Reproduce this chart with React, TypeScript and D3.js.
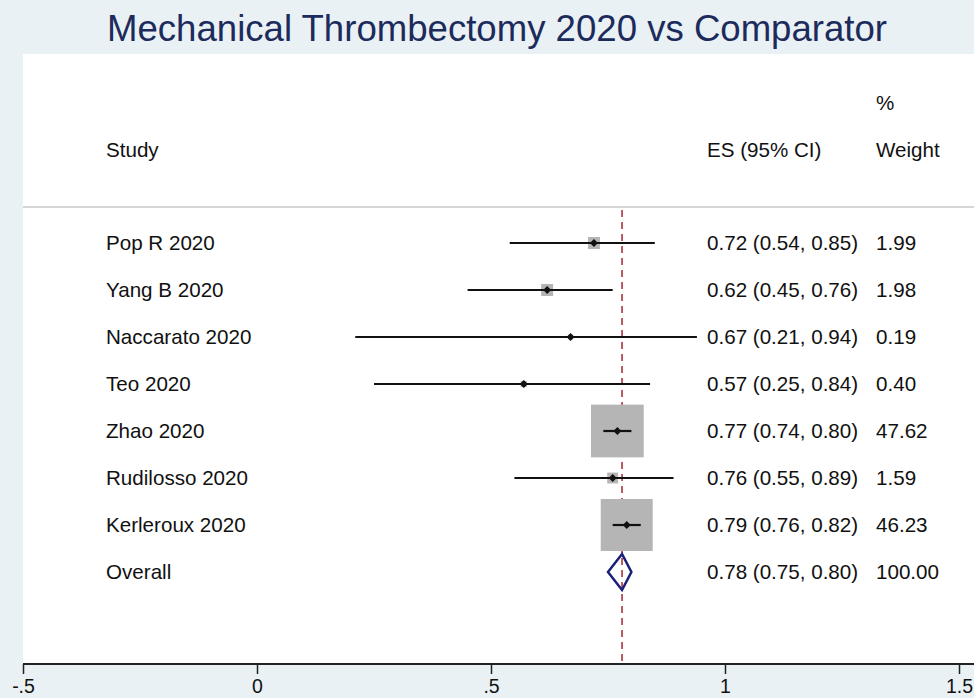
import { useEffect, useRef } from "react";
import * as d3 from "d3";

// forest plot: mechanical thrombectomy 2020 vs comparator

const studies = [
  "Pop R 2020",
  "Yang B 2020",
  "Naccarato 2020",
  "Teo 2020",
  "Zhao 2020",
  "Rudilosso 2020",
  "Kerleroux 2020",
];
const es = [0.72, 0.62, 0.67, 0.57, 0.77, 0.76, 0.79];
const lower = [0.54, 0.45, 0.21, 0.25, 0.74, 0.55, 0.76];
const upper = [0.85, 0.76, 0.94, 0.84, 0.8, 0.89, 0.82];
const weights = [1.99, 1.98, 0.19, 0.4, 47.62, 1.59, 46.23];

const overallLabel = "Overall";
const overallEs = 0.78;
const overallLower = 0.75;
const overallUpper = 0.8;
const overallWeight = 100.0;

const xTicks = [-0.5, 0, 0.5, 1, 1.5];

const W = 974;
const H = 698;
const plotLeft = 23;
const plotTop = 54;
const axisY = 664;
const font = "'Liberation Sans', Arial, Helvetica, sans-serif";
const fs = 20.6;

// stata style: no leading zero, plain hyphen
const fmtTick = (d: number) =>
  String(d).replace(/^0\./, ".").replace(/^-0\./, "-.");

export default function App() {
  const gx = useRef<SVGGElement>(null);

  const x = d3.scaleLinear([-0.5, 1.5], [23, 959]);
  const rows = [...studies, overallLabel];
  const y = d3.scalePoint<string>().domain(rows).range([243, 572]);
  const boxSide = d3.scaleSqrt([0, 50], [1.5, 54]);

  useEffect(() => {
    const g = d3.select(gx.current);
    g.call(
      d3
        .axisBottom(x)
        .tickValues(xTicks)
        .tickFormat((d) => fmtTick(d as number))
        .tickSize(10)
        .tickSizeOuter(0)
    );
    g.select(".domain").remove();
    g.selectAll(".tick line").attr("stroke", "#222").attr("stroke-width", 1.5);
    g.selectAll(".tick text")
      .attr("font-family", font)
      .attr("font-size", 19.5)
      .attr("fill", "#111")
      .attr("y", 15)
      .attr("dy", "0.71em");
  }, []);

  const f2 = d3.format(".2f");
  const ciText = (e: number, l: number, u: number) =>
    `${f2(e)} (${f2(l)}, ${f2(u)})`;

  const dy = y(overallLabel)!;
  const diamond = [
    [x(overallLower), dy],
    [x(overallEs), dy - 18],
    [x(overallUpper), dy],
    [x(overallEs), dy + 18],
  ];

  return (
    <svg
      width={W}
      height={H}
      style={{ position: "fixed", left: 0, top: 0 }}
      fontFamily={font}
    >
      <rect width={W} height={H} fill="#e9f1f4" />
      <rect
        x={plotLeft}
        y={plotTop}
        width={W - plotLeft}
        height={axisY - plotTop}
        fill="#ffffff"
      />
      <text
        x={497}
        y={41}
        textAnchor="middle"
        fontSize={36.6}
        fill="#1c2b5c"
      >
        Mechanical Thrombectomy 2020 vs Comparator
      </text>

      {/* headers */}
      <g fontSize={fs} fill="#111">
        <text x={106} y={157}>Study</text>
        <text x={707} y={157}>ES (95% CI)</text>
        <text x={876} y={110}>%</text>
        <text x={876} y={157}>Weight</text>
      </g>
      <line
        x1={plotLeft}
        x2={W}
        y1={207}
        y2={207}
        stroke="#c9c9c9"
        strokeWidth={1.5}
      />

      {/* overall reference line */}
      <line
        x1={x(overallEs)}
        x2={x(overallEs)}
        y1={210}
        y2={axisY}
        stroke="#a93541"
        strokeWidth={1.6}
        strokeDasharray="7,5"
      />

      {/* study rows */}
      {studies.map((s, i) => {
        const cy = y(s)!;
        const side = boxSide(weights[i]);
        return (
          <g key={s}>
            <rect
              x={x(es[i]) - side / 2}
              y={cy - side / 2}
              width={side}
              height={side}
              fill="#b5b5b5"
            />
            <line
              x1={x(lower[i])}
              x2={x(upper[i])}
              y1={cy}
              y2={cy}
              stroke="#111"
              strokeWidth={2.2}
            />
            <path
              d={`M${x(es[i]) - 4},${cy} L${x(es[i])},${cy - 4} L${x(es[i]) + 4},${cy} L${x(es[i])},${cy + 4} Z`}
              fill="#111"
            />
            <text x={106} y={cy + 7} fontSize={fs} fill="#111">
              {s}
            </text>
            <text x={707} y={cy + 7} fontSize={fs} fill="#111">
              {ciText(es[i], lower[i], upper[i])}
            </text>
            <text x={876} y={cy + 7} fontSize={fs} fill="#111">
              {f2(weights[i])}
            </text>
          </g>
        );
      })}

      {/* overall */}
      <polygon
        points={diamond.map((p) => p.join(",")).join(" ")}
        fill="none"
        stroke="#1a1f7a"
        strokeWidth={2.5}
      />
      <text x={106} y={dy + 7} fontSize={fs} fill="#111">
        {overallLabel}
      </text>
      <text x={707} y={dy + 7} fontSize={fs} fill="#111">
        {ciText(overallEs, overallLower, overallUpper)}
      </text>
      <text x={876} y={dy + 7} fontSize={fs} fill="#111">
        {f2(overallWeight)}
      </text>

      {/* x axis */}
      <line
        x1={plotLeft}
        x2={W}
        y1={axisY}
        y2={axisY}
        stroke="#222"
        strokeWidth={2}
      />
      <g ref={gx} transform={`translate(0,${axisY})`} />
    </svg>
  );
}
